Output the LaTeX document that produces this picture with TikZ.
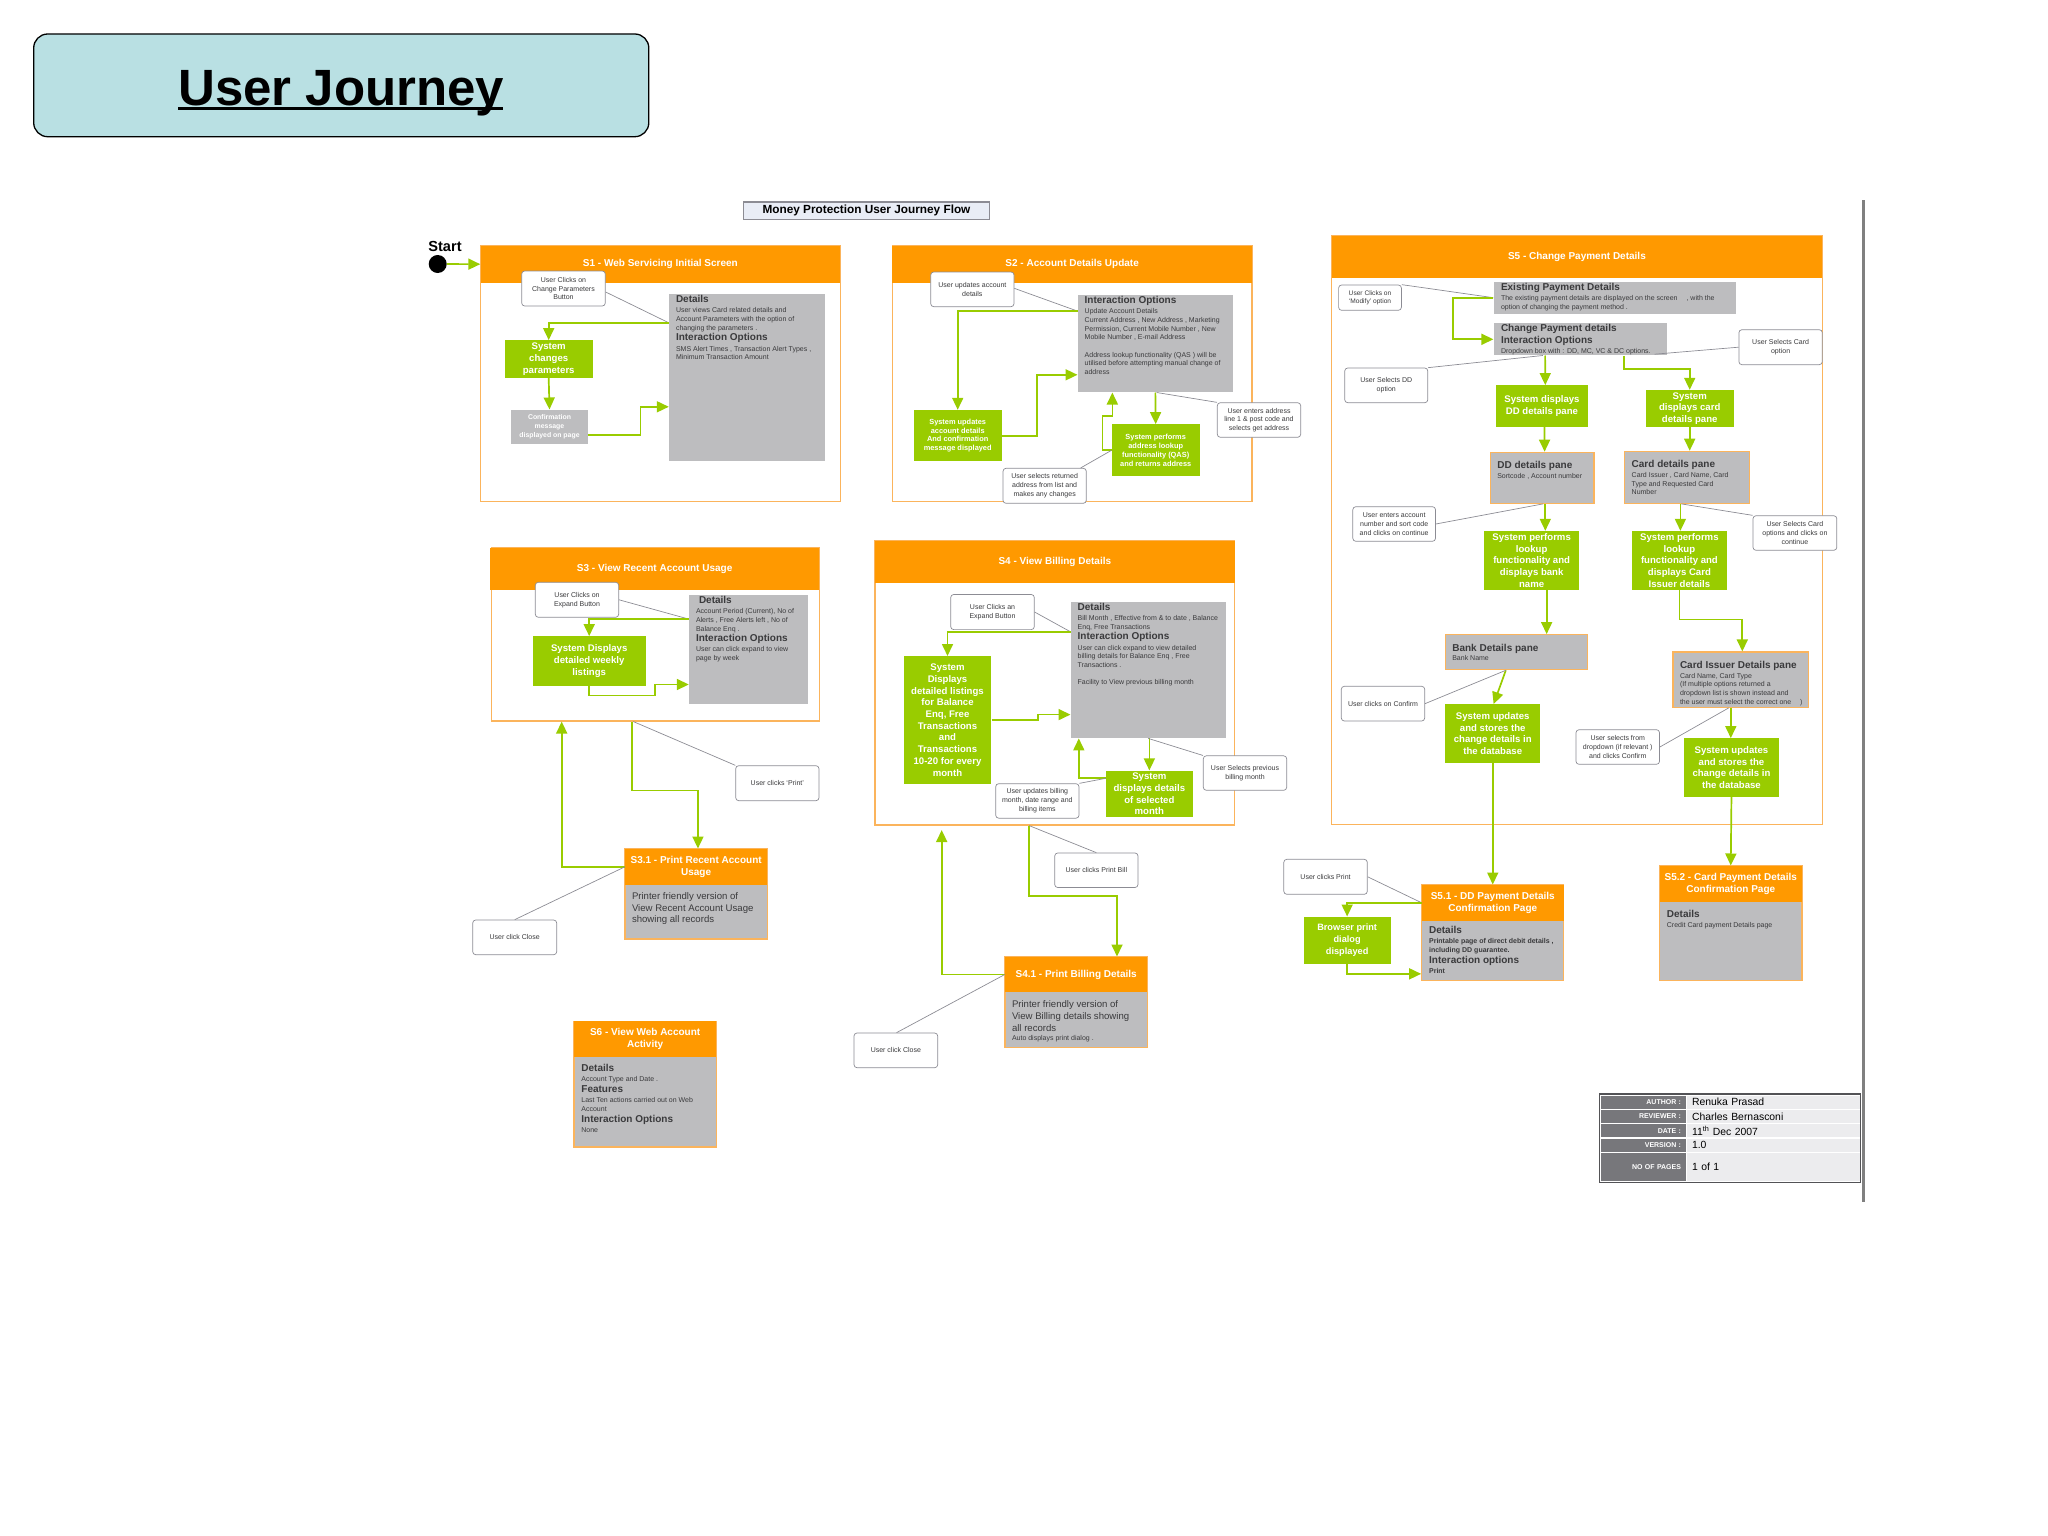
\documentclass[tikz,border=0pt]{standalone}
\usepackage{xcolor}
\usepackage{fontspec}
\setmainfont{Liberation Sans}
\usepackage{tikz}
\usetikzlibrary{arrows.meta, positioning}
\definecolor{stageOrange}{HTML}{FF9900}
\definecolor{frameOrange}{HTML}{FBB45C}
\definecolor{sysGreen}{HTML}{99CC00}
\definecolor{panelGray}{HTML}{BDBDBF}
\definecolor{panelInk}{HTML}{3A3A3C}
\definecolor{noteGray}{HTML}{8C8C94}
\definecolor{titleBlue}{HTML}{B9E0E3}
\definecolor{moneyBlue}{HTML}{E9EDF6}
\definecolor{tableDark}{HTML}{77777B}
\definecolor{tableLight}{HTML}{ECECEE}
\newcommand{\dhead}[1]{{\fontsize{10}{10}\selectfont\bfseries #1}}

\begin{document}
\begin{tikzpicture}[
    x=1pt, y=-1pt,
    corners/.style args={#1/#2/#3/#4}{at={({(#1+#3)/2},{(#2+#4)/2})}, minimum width={(#3-#1)*1pt}, minimum height={(#4-#2)*1pt}},
    box/.style={inner sep=0pt, align=center},
    stageframe/.style={box, draw=frameOrange, line width=1.1pt},
    stagehead/.style={box, fill=stageOrange, text=white, font=\fontsize{10}{12}\selectfont\bfseries},
    stagebody/.style={box, draw=frameOrange, line width=1.1pt, fill=panelGray},
    callout/.style={box, draw=noteGray, line width=0.7pt, rounded corners=3pt, fill=white, text=panelInk, font=\fontsize{7}{8.8}\selectfont},
    sysbox/.style={box, fill=sysGreen, text=white, font=\fontsize{9.6}{11.7}\selectfont\bfseries},
    smallsys/.style={box, fill=sysGreen, text=white, font=\fontsize{7.4}{8.8}\selectfont\bfseries},
    panel/.style={box, fill=panelGray},
    panelb/.style={box, fill=panelGray, draw=frameOrange, line width=1.2pt},
    paneltext/.style={inner sep=0pt, align=left, text=panelInk, font=\fontsize{7}{8.7}\selectfont},
    printtext/.style={inner sep=0pt, align=left, text=panelInk, font=\fontsize{9.6}{11.8}\selectfont},
    arrow/.style={->, >={Triangle[length=12pt, width=11pt]}, draw=sysGreen, line width=1.7pt},
    note/.style={draw=noteGray, line width=0.7pt},
    tablelabel/.style={box, fill=tableDark, text=white, text width=75pt, align=right, font=\fontsize{7}{8}\selectfont\bfseries},
    tablevalue/.style={box, fill=tableLight, text=black, text width=163pt, align=left, font=\fontsize{10.4}{12}\selectfont},
]
    \useasboundingbox (0,0) rectangle (2048,1536);

    \node[box, corners=33.7/34/648.8/136.7, text height=41.3pt, text depth=0pt, draw=black, line width=1.3pt, fill=titleBlue, rounded corners=14pt, font=\fontsize{51}{56}\selectfont\bfseries] (titlebox) {\rlap{\rule[-3.6pt]{325pt}{2.6pt}}User Journey};
    \node[box, corners=743.7/202/989.3/219.3, draw=noteGray, line width=1.2pt, fill=moneyBlue, font=\fontsize{11.8}{13}\selectfont\bfseries] (moneybox) {Money Protection User Journey Flow};
    \draw[draw=gray, line width=2.5pt] (1863.3,200) coordinate (ruletop) -- (1863.3,1201.7) coordinate (rulebottom);

    \node[circle, fill=black, minimum size=18pt, inner sep=0pt] (startdot) at (437.7,264) {};
    \node[above=3pt of startdot, xshift=7.3pt, inner sep=0pt, font=\fontsize{14.6}{16}\selectfont\bfseries] (startlabel) {Start};

    \node[stageframe, corners=480.5/245.7/840.3/501.7] (s1frame) {};
    \node[stagehead, corners=480.5/245.7/840.3/282.7] (s1head) {S1 - Web Servicing Initial Screen};
    \node[callout, corners=521.7/271/605.3/306] (s1call) {User Clicks on\\Change Parameters\\Button};
    \node[panel, corners=669/293.7/824.7/461.3] (s1details) {};
    \node[paneltext, below right=2pt and 7pt of s1details.north west] (s1detailstext) {\dhead{Details}\\[1pt] User views Card related details and\\Account Parameters with the option of\\changing the parameters .\\[1.8pt] \dhead{Interaction Options}\\[1.8pt] SMS Alert Times , Transaction Alert Types ,\\Minimum Transaction Amount};
    \node[sysbox, corners=504.7/340.3/592.7/378] (s1sys) {System\\changes\\parameters};
    \node[smallsys, corners=511.3/409.7/587.7/444.3, fill=panelGray, font=\fontsize{6.9}{8.8}\selectfont\bfseries] (s1confirm) {Confirmation\\message\\displayed on page};

    \draw[arrow] (startdot) -- (s1head.west);
    \draw[note] ([yshift=-3.5pt]s1call.east) -- ([yshift=-29.3pt]s1details.north west);
    \draw[arrow] ([yshift=-29.3pt]s1details.north west) -| (s1sys.north);
    \draw[arrow] (s1sys.south) -- (s1confirm.north);
    \draw[arrow] ([yshift=-8pt]s1confirm.east) -- ++(52.6,0) |- ([yshift=-113.3pt]s1details.north west);

    \node[stageframe, corners=892.3/245.7/1252/501.7] (s2frame) {};
    \node[stagehead, corners=892.3/245.7/1252/282.7] (s2head) {S2 - Account Details Update};
    \node[callout, corners=930.7/272/1014/306.7] (s2call) {User updates account\\details};
    \node[panel, corners=1077.7/294.7/1233/392.3] (s2details) {};
    \node[paneltext, below right=2pt and 7pt of s2details.north west] (s2detailstext) {\dhead{Interaction Options}\\[1pt] Update Account Details\\Current Address , New Address , Marketing\\Permission, Current Mobile Number , New\\Mobile Number , E-mail Address\\[8.7pt] Address lookup functionality (QAS ) will be\\utilised before attempting manual change of\\address};
    \node[smallsys, corners=913.7/410/1001.7/461.3] (s2sys) {System updates\\account details\\And confirmation\\message displayed};
    \node[smallsys, corners=1111.7/424.3/1199.7/476.3] (s2lookup) {System performs\\address lookup\\functionality (QAS)\\and returns address};
    \node[callout, corners=1217.3/402.7/1300.7/437.3] (s2enter) {User enters address\\line 1 \& post code and\\selects get address};
    \node[callout, corners=1003/468.3/1086.3/503.3] (s2select) {User selects returned\\address from list and\\makes any changes};

    \draw[note] ([yshift=1pt]s2call.east) -- ([yshift=-16.6pt]s2details.north west);
    \draw[arrow] ([yshift=-16.6pt]s2details.north west) -| (s2sys.north);
    \draw[arrow] (s2sys.east) -- ++(35,0) |- ([yshift=-80.3pt]s2details.north west);
    \draw[arrow] (s2details.south) -- (s2lookup.north);
    \draw[note] ([xshift=1.3pt]s2details.south) -- (s2enter.north west);
    \draw[arrow] (s2lookup.west) -- ++(-9,0) -- ++(0,-34.6) -| ([xshift=-43pt]s2details.south);
    \draw[note] (s2lookup.west) -- ([xshift=-6pt]s2select.north east);

    \node[stageframe, corners=491.7/548/819.3/721] (s3frame) {};
    \node[stagehead, corners=490/548/819.3/590] (s3head) {S3 - View Recent Account Usage};
    \node[callout, corners=535.3/582.3/618.7/617.3] (s3call) {User Clicks on\\Expand Button};
    \node[panel, corners=689/594.7/808.3/703.7] (s3details) {};
    \node[paneltext, below right=2pt and 7pt of s3details.north west] (s3detailstext) {\hspace{3pt}\dhead{Details}\\[1pt] Account Period (Current), No of\\Alerts , Free Alerts left , No of\\Balance Enq .\\[1.8pt] \dhead{Interaction Options}\\[1.5pt] User can click expand to view\\page by week};
    \node[sysbox, corners=532.7/636.3/645.7/686] (s3sys) {System Displays\\detailed weekly\\listings};
    \node[callout, corners=735.7/765.7/819/800.7] (s3printcall) {User clicks `Print'};
    \node[stagebody, corners=625/848.7/767.3/939] (s31frame) {};
    \node[stagehead, corners=625/848.7/767.3/885] (s31head) {S3.1 - Print Recent Account\\Usage};
    \node[printtext, below right=7pt and 7pt of s31head.south west] (s31text) {Printer friendly version of\\View Recent Account Usage\\showing all records};
    \node[callout, corners=472.7/920/556.7/954.7] (s3close) {User click Close};

    \draw[note] (s3call.east) -- ([yshift=-24.6pt]s3details.north west);
    \draw[arrow] ([yshift=-24.6pt]s3details.north west) -| (s3sys.north);
    \draw[arrow] (s3sys.south) -- ++(0,9.3) -- ++(65.5,0) |- ([yshift=-90pt]s3details.north west);
    \draw[note] ([xshift=-22.2pt]s3frame.south) -- (s3printcall.north west);
    \draw[arrow] ([xshift=-23.5pt]s3frame.south) -- ++(0,69) -| ([xshift=1.8pt]s31head.north);
    \draw[arrow] (s31head.west) -| ([xshift=-93.8pt]s3frame.south);
    \draw[note] (s31head.west) -- (s3close.north);

    \node[stageframe, corners=875/540.7/1234.7/825] (s4frame) {};
    \node[stagehead, corners=875/540.7/1234.7/583] (s4head) {S4 - View Billing Details};
    \node[callout, corners=950.7/594.5/1034.3/629.6] (s4call) {User Clicks an\\Expand Button};
    \node[panel, corners=1070.7/601.7/1225.7/738.2] (s4details) {};
    \node[paneltext, below right=2pt and 7pt of s4details.north west] (s4detailstext) {\dhead{Details}\\[1pt] Bill Month , Effective from \& to date , Balance\\Enq, Free Transactions\\[1.8pt] \dhead{Interaction Options}\\[1.5pt] User can click expand to view detailed\\billing details for Balance Enq , Free\\Transactions .\\[8.7pt] Facility to View previous billing month};
    \node[sysbox, corners=903.7/656.2/991.3/784] (s4sys) {System\\Displays\\detailed listings\\for Balance\\Enq, Free\\Transactions\\and\\Transactions\\10-20 for every\\month};
    \node[sysbox, corners=1106/770.6/1192.7/817.1] (s4month) {System\\displays details\\of selected\\month};
    \node[callout, corners=995.7/783.7/1079/818.2] (s4update) {User updates billing\\month, date range and\\billing items};
    \node[callout, corners=1203.3/755.8/1286.7/790.3] (s4prev) {User Selects previous\\billing month};
    \node[callout, corners=1054.7/853/1138/887.5] (s4print) {User clicks Print Bill};
    \node[stagebody, corners=1005/956.7/1147.3/1047.4] (s41frame) {};
    \node[stagehead, corners=1005/956.7/1147.3/992.3] (s41head) {S4.1 - Print Billing Details};
    \node[printtext, below right=8pt and 7pt of s41head.south west] (s41text) {Printer friendly version of\\View Billing details showing\\all records\\[-2.5pt] {\fontsize{7}{8}\selectfont Auto displays print dialog .}};
    \node[callout, corners=854/1033/937.7/1067.7] (s4close) {User click Close};

    \draw[note] (s4call.east) -- ([yshift=-30.3pt]s4details.north west);
    \draw[arrow] ([yshift=-30.3pt]s4details.north west) -| (s4sys.north);
    \draw[arrow] (s4sys.east) -- ++(46.4,0) |- ([yshift=-113.1pt]s4details.north west);
    \draw[arrow] (s4month.north |- s4details.south) -- (s4month.north);
    \draw[note] (s4details.south) -- (s4prev.north west);
    \draw[arrow] ([yshift=-7.9pt]s4month.north west) -| ([xshift=8.3pt]s4details.south west);
    \draw[note] ([yshift=-7.9pt]s4month.north west) -- (s4update.north east);
    \draw[note] ([xshift=-25.85pt]s4frame.south) -- (s4print.north);
    \draw[arrow] ([xshift=-25.85pt]s4frame.south) -- ++(0,70.4) -| ([xshift=40.85pt]s41head.north);
    \draw[arrow] (s41head.west) -| ([xshift=-113.15pt,yshift=-4.5pt]s4frame.south);
    \draw[note] (s41head.west) -- ([xshift=0.7pt]s4close.north);

    \node[stageframe, corners=1331.5/236/1822.3/824.7] (s5frame) {};
    \node[stagehead, corners=1331.5/236/1822.3/278.3] (s5head) {S5 - Change Payment Details};
    \node[callout, corners=1338.6/285/1401.4/310.3, font=\fontsize{6.6}{8.6}\selectfont] (s5modify) {User Clicks on\\`Modify' option};
    \node[panel, corners=1493.6/281.7/1735.8/313.7] (s5exist) {};
    \node[paneltext, below right=1.7pt and 7.4pt of s5exist.north west] (s5existtext) {\dhead{Existing Payment Details}\\[1.5pt] The existing payment details are displayed on the screen \quad, with the\\option of changing the payment method .};
    \node[panel, corners=1493.6/323.3/1666.6/355.3] (s5change) {};
    \node[paneltext, below right=1pt and 7.4pt of s5change.north west] (s5changetext) {\dhead{Change Payment details}\\[2pt] \dhead{Interaction Options}\\[1pt] Dropdown box with : DD, MC, VC \& DC options.};
    \node[callout, corners=1738.9/329.7/1822.3/364.7] (s5cardopt) {User Selects Card\\option};
    \node[callout, corners=1344.7/368/1427.8/402.7] (s5ddopt) {User Selects DD\\option};
    \node[sysbox, corners=1495.7/385.3/1588.2/426.7] (s5sysdd) {System displays\\DD details pane};
    \node[sysbox, corners=1645.6/390/1733.8/426.7] (s5syscard) {System\\displays card\\details pane};
    \node[panelb, corners=1490.3/452.3/1594/503.3] (s5ddpane) {};
    \node[paneltext, below right=9.5pt and 7.4pt of s5ddpane.north west] (s5ddtext) {\dhead{DD details pane}\\[1pt] Sortcode , Account number};
    \node[panelb, corners=1624.7/451.3/1749.3/503.3] (s5cardpane) {};
    \node[paneltext, below right=9.5pt and 7.4pt of s5cardpane.north west] (s5cardtext) {\dhead{Card details pane}\\[1pt] Card Issuer , Card Name, Card\\Type and Requested Card\\Number};
    \node[callout, corners=1352.8/506.7/1435.5/541.3] (s5account) {User enters account\\number and sort code\\and clicks on continue};
    \node[callout, corners=1753/515.7/1836.8/550.3] (s5cardcont) {User Selects Card\\options and clicks on\\continue};
    \node[sysbox, corners=1484.2/531/1579.1/589.7] (s5lookupa) {System performs\\lookup\\functionality and\\displays bank\\name};
    \node[sysbox, corners=1631.8/531/1727/589.7] (s5lookupb) {System performs\\lookup\\functionality and\\displays Card\\Issuer details};
    \node[panelb, corners=1445.3/634.7/1587.2/669.7] (s5bank) {};
    \node[paneltext, below right=9.5pt and 7.4pt of s5bank.north west] (s5banktext) {\dhead{Bank Details pane}\\[1pt] Bank Name};
    \node[panelb, corners=1673/652/1808.1/707.3] (s5issuer) {};
    \node[paneltext, below right=9.5pt and 7.4pt of s5issuer.north west] (s5issuertext) {\dhead{Card Issuer Details pane}\\[1pt] Card Name, Card Type\\(If multiple options returned a\\dropdown list is shown instead and\\the user must select the correct one \quad)};
    \node[callout, corners=1341.3/686.3/1424.7/721] (s5confirm) {User clicks on Confirm};
    \node[sysbox, corners=1445.3/704.3/1540.2/762.7] (s5storea) {System updates\\and stores the\\change details in\\the database};
    \node[callout, corners=1576/729.7/1659.5/764.3] (s5dropdown) {User selects from\\dropdown (if relevant )\\and clicks Confirm};
    \node[sysbox, corners=1683.8/738.3/1779.1/796.7] (s5storeb) {System updates\\and stores the\\change details in\\the database};

    \node[stagebody, corners=1421.7/884.7/1563.8/980.7] (s51frame) {};
    \node[stagehead, corners=1421.7/884.7/1563.8/920.7] (s51head) {S5.1 - DD Payment Details\\Confirmation Page};
    \node[paneltext, below right=5.5pt and 7.4pt of s51head.south west] (s51text) {\dhead{Details}\\[1pt] {\bfseries Printable page of direct debit details ,}\\{\bfseries including DD guarantee.}\\[1.5pt] \dhead{Interaction options}\\[1pt] {\bfseries Print}};
    \node[stagebody, corners=1659.5/865.7/1802/980.7] (s52frame) {};
    \node[stagehead, corners=1659.5/865.7/1802/901.7] (s52head) {S5.2 - Card Payment Details\\Confirmation Page};
    \node[paneltext, below right=8pt and 7.4pt of s52head.south west] (s52text) {\dhead{Details}\\[1pt] Credit Card payment Details page};
    \node[callout, corners=1283.8/859.3/1367.3/894.3] (s5print) {User clicks Print};
    \node[sysbox, corners=1303.7/916.7/1390.6/963.7, font=\fontsize{9.2}{11.7}\selectfont\bfseries] (s5browser) {Browser print\\dialog\\displayed};

    \draw[note] (s5modify.north east) -- (s5exist.west);
    \draw[arrow] (s5exist.west) -- ++(-40.5,0) |- (s5change.west);
    \draw[note] (s5ddopt.north east) -- ([xshift=49.4pt]s5change.south west);
    \draw[note] (s5cardopt.west) -- ([xshift=-12.2pt,yshift=1.3pt]s5change.south east);
    \draw[arrow] ([xshift=51.7pt]s5change.south west) -- ([xshift=3.35pt]s5sysdd.north);
    \draw[arrow] ([xshift=-42.6pt]s5change.south east) -- ++(0,13.4) -| (s5syscard.north);
    \draw[arrow] ([xshift=2.6pt]s5sysdd.south) -- ([xshift=2.45pt]s5ddpane.north);
    \draw[arrow] (s5syscard.south) -- ([xshift=2.7pt]s5cardpane.north);
    \draw[arrow] ([xshift=3.15pt]s5ddpane.south) -- ([xshift=13.65pt]s5lookupa.north);
    \draw[note] (s5account.east) -- ([xshift=0.85pt]s5ddpane.south);
    \draw[arrow] ([xshift=-6.6pt]s5cardpane.south) -- ([xshift=1pt]s5lookupb.north);
    \draw[note] ([xshift=-5.6pt]s5cardpane.south) -- (s5cardcont.north west);
    \draw[arrow] ([xshift=15pt]s5lookupa.south) -- ([xshift=30.4pt]s5bank.north);
    \draw[arrow] (s5lookupb.south) -- ++(0,29.6) -| ([xshift=1.75pt]s5issuer.north);
    \draw[arrow] ([xshift=-10.45pt]s5bank.south) -- ([xshift=0.85pt]s5storea.north);
    \draw[note] ([xshift=-10.45pt]s5bank.south) -- (s5confirm.east);
    \draw[arrow] ([xshift=-9.75pt]s5issuer.south) -- ([xshift=-0.65pt]s5storeb.north);
    \draw[note] ([xshift=-11.85pt]s5issuer.south) -- (s5dropdown.east);
    \draw[arrow] (s5storea.south) -- (s51head.north);
    \draw[arrow] (s5storeb.south) -- (s52head.north);
    \draw[note] (s5print.east) -- (s51head.west);
    \draw[arrow] (s51head.west) -| (s5browser.north);
    \draw[arrow] (s5browser.south) |- ([yshift=7.4pt]s51frame.south west);

    \node[stagebody, corners=574/1021.3/716.3/1147] (s6frame) {};
    \node[stagehead, corners=574/1021.3/716.3/1057.3] (s6head) {S6 - View Web Account\\Activity};
    \node[paneltext, below right=7pt and 7.4pt of s6head.south west] (s6text) {\dhead{Details}\\[1pt] Account Type and Date .\\[2.5pt] \dhead{Features}\\[1pt] Last Ten actions carried out on Web\\Account\\[2.5pt] \dhead{Interaction Options}\\[1pt] None};

    \node[box, corners=1599.3/1094/1860.7/1182.3, draw=tableDark!70!black, line width=1.2pt, fill=white] (infotable) {};
    \node[tablelabel, corners=1601/1095.7/1686/1108.7] (authorkey) {AUTHOR :};
    \node[tablevalue, corners=1687/1095.7/1860/1108.7] (authorval) {Renuka Prasad};
    \node[tablelabel, corners=1601/1110/1686/1122.7] (reviewerkey) {REVIEWER :};
    \node[tablevalue, corners=1687/1110/1860/1122.7] (reviewerval) {Charles Bernasconi};
    \node[tablelabel, corners=1601/1124.3/1686/1137] (datekey) {DATE :};
    \node[tablevalue, corners=1687/1124.3/1860/1137] (dateval) {11\textsuperscript{th} Dec 2007};
    \node[tablelabel, corners=1601/1138.7/1686/1151.7] (versionkey) {VERSION :};
    \node[tablevalue, corners=1687/1138.7/1860/1151.7] (versionval) {1.0};
    \node[tablelabel, corners=1601/1153.3/1686/1181] (pageskey) {NO OF PAGES};
    \node[tablevalue, corners=1687/1153.3/1860/1181] (pagesval) {1 of 1};
\end{tikzpicture}
\end{document}
